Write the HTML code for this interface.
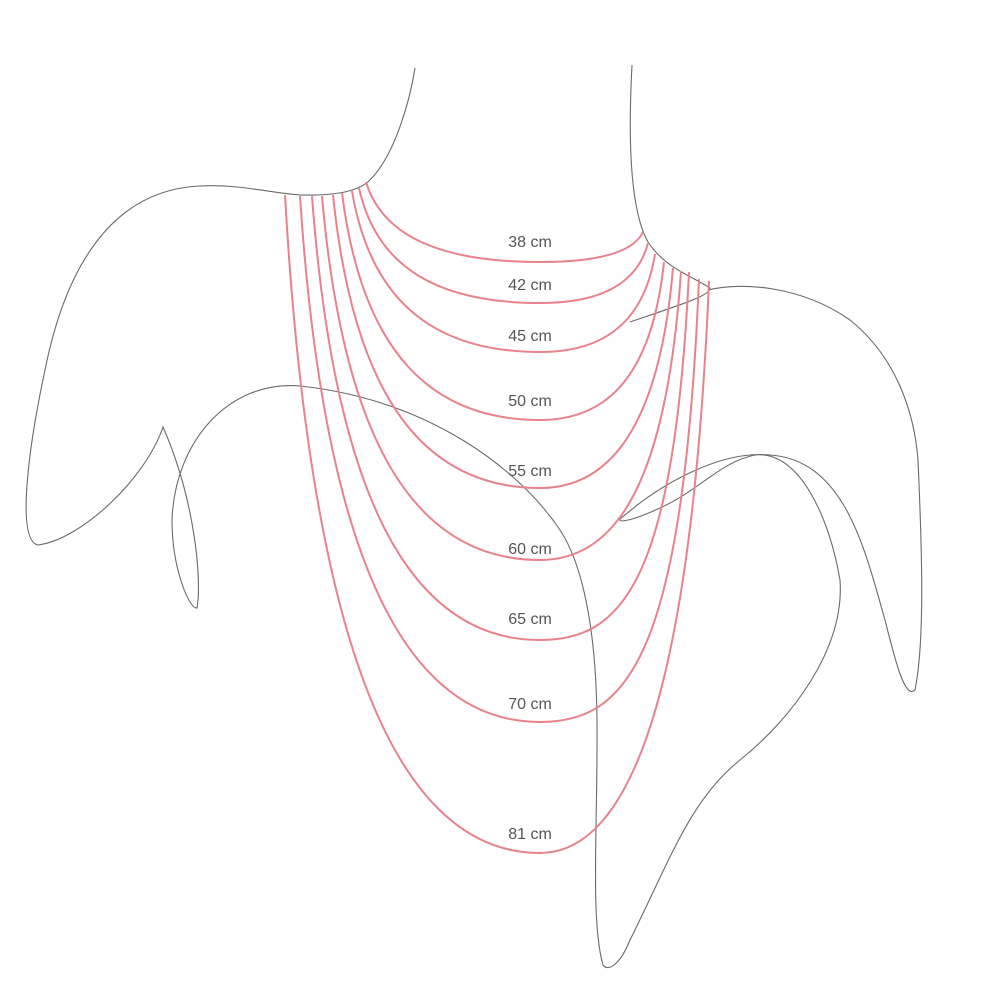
<!DOCTYPE html>
<html><head><meta charset="utf-8"><style>
html,body{margin:0;padding:0;background:#fff}
svg{display:block}
text{font-family:"Liberation Sans",sans-serif;font-size:16px;fill:#555}
</style></head><body>
<svg width="1000" height="1000" viewBox="0 0 1000 1000" xmlns="http://www.w3.org/2000/svg">
<g fill="none" stroke="#6a6a6a" stroke-width="1.1">
<path d="M632,65 C628,140 630,210 648,242 C665,268 690,275 710,288 C712,295 680,305 630,322"/>
<path d="M708,290 C740,282 800,285 850,320 C900,360 915,420 918,460 C922,550 925,640 915,690 C905,700 895,660 885,620 C865,550 845,460 770,455 C720,450 660,485 625,515 C610,525 630,522 660,508 C700,490 720,462 755,455 C800,450 830,520 840,580 C845,650 790,720 740,760 C690,800 670,860 630,940 C620,965 608,972 603,965 C590,920 598,820 597,720 C596,620 580,560 560,530 C520,470 430,400 300,386 C230,380 175,440 172,520 C172,570 190,610 197,608 C202,580 195,500 163,427 C145,480 80,540 38,545 C15,540 30,440 45,370 C65,270 110,190 200,186 C240,184 270,193 300,195 C340,196 360,190 370,180 C395,155 410,100 415,68"/>
</g>
<g fill="none" stroke="#e8828c" stroke-width="2">
<path d="M366,182 C383,238 444,262 540,262 C597,262 633,253 643,232"/>
<path d="M359,188 C377,269 440,303 540,303 C599,303 637,285 648,243"/>
<path d="M352,191 C371,304 437,352 540,352 C603,352 644,323 655,254"/>
<path d="M342,193 C362,352 431,420 540,420 C608,420 652,375 664,262"/>
<path d="M333,195 C354,400 426,488 540,488 C613,488 660,420 673,268"/>
<path d="M322,196 C344,451 420,560 540,560 C618,560 667,479 681,271"/>
<path d="M312,196 C335,507 415,640 540,640 C622,640 674,583 689,272"/>
<path d="M300,196 C324,564 408,722 540,722 C627,722 683,659 699,279"/>
<path d="M285,195 C311,656 400,853 540,853 C633,853 692,683 709,281"/>
</g>
<g text-anchor="middle">
<text x="530" y="247">38 cm</text>
<text x="530" y="290">42 cm</text>
<text x="530" y="341">45 cm</text>
<text x="530" y="406">50 cm</text>
<text x="530" y="476">55 cm</text>
<text x="530" y="554">60 cm</text>
<text x="530" y="624">65 cm</text>
<text x="530" y="709">70 cm</text>
<text x="530" y="839">81 cm</text>
</g>
</svg>
</body></html>
